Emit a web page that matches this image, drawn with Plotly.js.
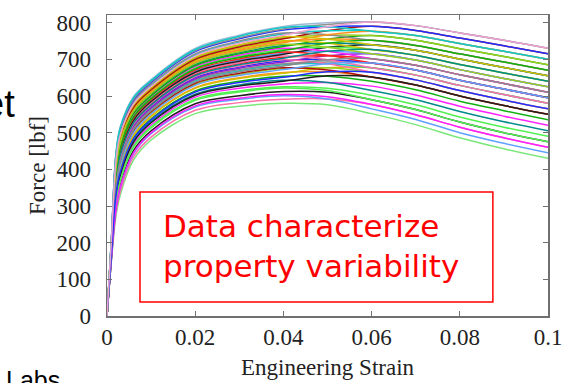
<!DOCTYPE html>
<html>
<head>
<meta charset="utf-8">
<script src="https://cdn.plot.ly/plotly-3.0.1.min.js"></script>
<style>
html,body{margin:0;padding:0;background:#fff;overflow:hidden;}
#chart{width:569px;height:383px;}
</style>
</head>
<body>
<div id="chart"></div>
<script>
// Engineering strain sample points (shared by every specimen curve)
const strain = [0,0.001,0.002,0.003,0.006,0.01,0.02,0.03,0.04,0.05,0.06,0.07,0.08,0.09,0.1];

// Force [lbf], one array per specimen
const s01 = [0,150,270,330,425,480,552,572,580,576,552,522,486,456,430];
const s02 = [0,153,279,339,434,488,561,582,591,592,577,549,515,486,460];
const s03 = [0,156,287,349,442,497,570,591,601,592,565,536,500,471,445];
const s04 = [0,159,296,358,451,505,579,601,612,610,590,563,529,500,475];
const s05 = [0,162,304,367,460,513,588,611,622,615,590,563,529,500,475];
const s06 = [0,165,313,377,468,521,597,621,633,637,627,603,572,545,520];
const s07 = [0,168,321,386,477,530,605,630,643,637,615,590,558,530,505];
const s08 = [0,171,330,395,486,538,614,640,654,654,640,617,586,560,535];
const s09 = [0,174,338,404,494,546,623,650,664,666,652,630,600,574,550];
const s10 = [0,172,335,401,491,544,621,648,662,677,677,657,629,604,580];
const s11 = [0,177,347,414,503,554,632,659,675,677,665,644,615,589,565];
const s12 = [0,179,350,417,506,557,635,662,677,671,652,630,600,574,550];
const s13 = [0,180,355,423,512,563,641,669,685,688,677,657,629,604,580];
const s14 = [0,182,358,426,515,566,644,672,688,693,690,671,643,619,595];
const s15 = [0,183,364,432,520,571,650,679,696,699,690,671,643,619,595];
const s16 = [0,181,361,429,517,568,647,676,693,710,715,698,672,648,625];
const s17 = [0,186,372,442,529,579,659,688,706,710,702,684,658,634,610];
const s18 = [0,188,375,445,532,582,662,691,709,699,677,657,629,604,580];
const s19 = [0,189,381,451,537,587,668,698,717,722,715,698,672,648,625];
const s20 = [0,187,378,448,534,585,665,695,714,733,740,725,701,678,655];
const s21 = [0,192,389,460,546,596,677,708,727,733,727,711,686,663,640];
const s22 = [0,194,392,463,549,599,680,711,730,722,702,684,658,634,610];
const s23 = [0,195,398,470,555,604,686,718,738,744,740,725,701,678,655];
const s24 = [0,193,395,467,552,601,683,715,735,755,765,752,729,708,685];
const s25 = [0,198,406,479,563,612,694,727,748,755,752,738,715,693,670];
const s26 = [0,200,409,482,566,615,697,730,751,744,727,711,686,663,640];
const s27 = [0,201,415,488,572,620,703,737,759,766,765,752,729,708,685];
const s28 = [0,199,412,485,569,617,700,734,756,778,790,779,758,737,715];
const s29 = [0,204,423,497,581,629,712,747,769,778,777,765,743,722,700];
const s30 = [0,206,426,500,584,632,715,750,772,767,752,738,715,693,670];
const s31 = [0,207,432,507,589,637,721,756,780,789,790,779,758,737,715];
const s32 = [0,210,440,516,598,645,730,766,790,800,802,792,772,752,730];
const s33 = [0,190,384,454,540,590,671,701,720,711,690,671,643,619,595];
const s34 = [0,184,367,435,523,574,653,682,699,688,665,644,615,589,565];
const s35 = [0,176,344,411,500,551,629,656,672,688,690,671,643,619,595];
const s36 = [0,167,318,383,474,527,602,627,640,655,652,630,600,574,550];
const s37 = [0,163,307,370,463,516,591,614,625,621,602,576,543,515,490];
const s38 = [0,157,290,352,445,500,573,594,604,598,577,549,515,486,460];
const s39 = [0,187,369,439,526,576,656,685,703,722,727,711,686,663,640];
const s40 = [0,191,386,457,543,593,674,705,724,744,752,738,715,693,670];
const s41 = [0,197,403,476,560,609,691,724,745,767,777,765,743,722,700];
const s42 = [0,202,418,491,575,623,706,740,762,755,740,725,701,678,655];
const s43 = [0,196,401,473,558,607,689,721,741,733,715,698,672,648,625];
const s44 = [0,208,435,510,592,640,724,759,783,795,802,792,772,752,730];
const s45 = [0,209,437,513,595,642,727,763,787,789,777,765,743,722,700];
const s46 = [0,179,352,420,509,560,638,666,682,699,702,684,658,634,610];
const s47 = [0,170,327,392,483,535,611,637,651,666,665,644,615,589,565];
const s48 = [0,205,420,494,578,626,709,744,766,789,802,792,772,752,730];

const curves = [s01,s02,s03,s04,s05,s06,s07,s08,s09,s10,s11,s12,s13,s14,s15,s16,
  s17,s18,s19,s20,s21,s22,s23,s24,s25,s26,s27,s28,s29,s30,s31,s32,
  s33,s34,s35,s36,s37,s38,s39,s40,s41,s42,s43,s44,s45,s46,s47,s48];

const xTickVals = [0,0.02,0.04,0.06,0.08,0.1];
const xTickText = ['0','0.02','0.04','0.06','0.08','0.1'];
const yTickVals = [0,100,200,300,400,500,600,700,800];
const yTickText = ['0','100','200','300','400','500','600','700','800'];

const palette = ['#ff2020','#10b010','#2030ff','#ff20ff','#10c8c8','#202020','#9acd20',
  '#ff6fa8','#ff9020','#9020d0','#008a8a','#8a8a8a','#50f050','#b01010','#60a0ff','#d0c000'];

const colorFor = function(i){
  if (i === 0) return '#7ae87a';
  if (i === 31) return '#9fb8d8';
  if (i === 43) return '#909090';
  if (i === 47) return '#f0a0d0';
  return palette[(i * 7) % palette.length];
};

const traces = curves.map(function(c, i){
  return {
    x: strain, y: c, type: 'scatter', mode: 'lines',
    line: {color: colorFor(i), width: 1.5, shape: 'spline', smoothing: 1},
    hoverinfo: 'skip', showlegend: false
  };
});

const serif = '"Liberation Serif", "Times New Roman", Times, serif';
function axisBase(){
  return {
    showline: true, linecolor: '#707070', linewidth: 1.5, mirror: 'ticks',
    ticks: 'inside', ticklen: 5, tickwidth: 1, tickcolor: '#707070',
    showgrid: false, zeroline: false,
    tickfont: {family: serif, size: 23, color: '#222222'}
  };
}

const layout = {
  width: 569, height: 383,
  margin: {l: 107, r: 21, t: 15, b: 67},
  paper_bgcolor: '#fff', plot_bgcolor: '#fff',
  font: {family: serif, size: 23, color: '#222222'},
  showlegend: false,
  xaxis: Object.assign(axisBase(), {
    range: [0, 0.1], tickmode: 'array', tickvals: xTickVals, ticktext: xTickText,
    title: {text: 'Engineering Strain', font: {family: serif, size: 23, color: '#222222'}, standoff: 10}
  }),
  yaxis: Object.assign(axisBase(), {
    range: [0, 821], tickmode: 'array', tickvals: yTickVals, ticktext: yTickText,
    ticklabelstandoff: 10,
    title: {text: 'Force [lbf]', font: {family: serif, size: 23, color: '#222222'}, standoff: 4}
  }),
  shapes: [{
    type: 'rect', xref: 'paper', yref: 'paper',
    x0: 0.0748, x1: 0.875, y0: 0.0465, y1: 0.412,
    line: {color: '#ff0000', width: 1.5}, fillcolor: 'rgba(0,0,0,0)'
  }],
  annotations: [
    {text: 'Data characterize<br>property variability', xref: 'paper', yref: 'paper',
     x: 0.122, y: 0.232, xanchor: 'left', yanchor: 'middle', align: 'left', showarrow: false,
     font: {family: 'DejaVu Sans, Liberation Sans, sans-serif', size: 31, color: '#ff0000'}},
    {text: 'et', xref: 'paper', yref: 'paper', x: -0.204, y: 0.705,
     xanchor: 'right', yanchor: 'middle', showarrow: false,
     font: {family: 'Liberation Sans, Arial, sans-serif', size: 38, color: '#000'}},
    {text: 'Labs', xref: 'paper', yref: 'paper', x: -0.233, y: -0.158,
     xanchor: 'left', yanchor: 'top', showarrow: false,
     font: {family: 'Liberation Sans, Arial, sans-serif', size: 25, color: '#000'}}
  ]
};

Plotly.newPlot('chart', traces, layout, {displayModeBar: false, staticPlot: true});
</script>
</body>
</html>
